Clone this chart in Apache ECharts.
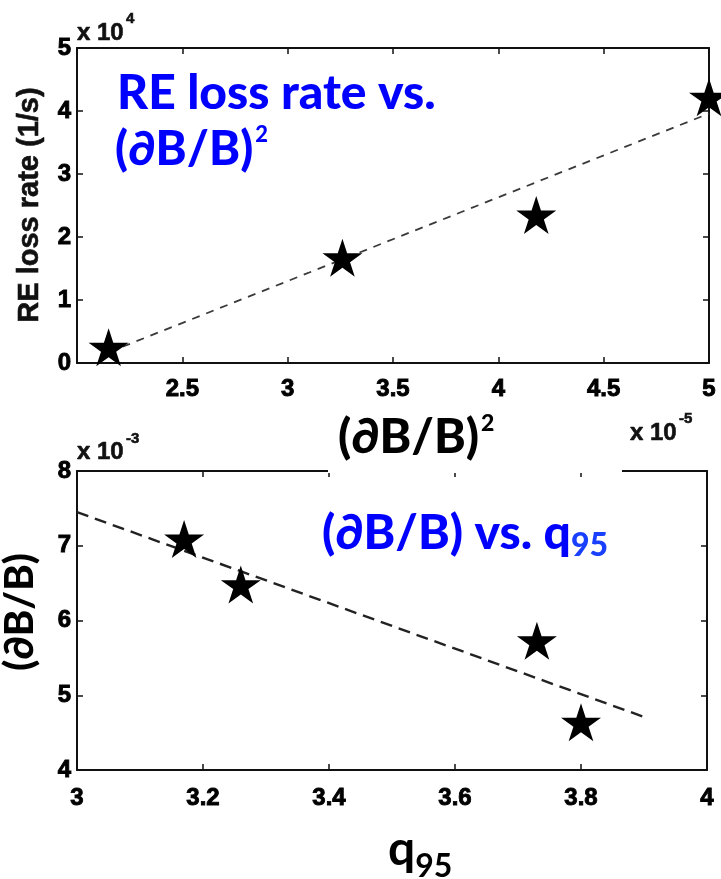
<!DOCTYPE html>
<html><head><meta charset="utf-8">
<script src="https://cdn.jsdelivr.net/npm/echarts@6/dist/echarts.min.js"></script>
<style>html,body{margin:0;padding:0;background:#fff}#c{width:721px;height:879px}</style>
</head><body><div id="c"></div>
<script>
// ---- Top panel: RE loss rate (x10^4 1/s) vs (dB/B)^2 (x10^-5)
const dBB2_x1e5 = [2.15, 3.26, 4.18, 5.00];
const lossRate_x1e4 = [0.25, 1.67, 2.35, 4.22];
const fitTopX = [2.15, 5.0];
const fitTopY = [0.17, 3.96];
const topXRange = [2, 5], topXStep = 0.5;
const topYRange = [0, 5], topYStep = 1;
// ---- Bottom panel: (dB/B) (x10^-3) vs q95
const q95 = [3.17, 3.26, 3.73, 3.80];
const dBB_x1e3 = [7.09, 6.48, 5.73, 4.64];
const fitBotX = [3.0, 3.9];
const fitBotY = [7.45, 4.71];
const botXRange = [3, 4], botXStep = 0.2;
const botYRange = [4, 8], botYStep = 1;

const zip = (a, b) => a.map((v, i) => [v, b[i]]);
const STAR = 'path://M50 0 L61.17 34.63 L97.55 34.55 L68.07 55.87 L79.39 90.45 L50 69 L20.61 90.45 L31.93 55.87 L2.45 34.55 L38.83 34.63 Z';
const TICKFONT = {fontFamily: 'Liberation Sans', fontWeight: 'bold', fontSize: 24, color: '#000', textBorderColor: '#000', textBorderWidth: 0.9};
const fmt = v => String(+(+v).toFixed(2));

function axis(grid, range, step, pos, labelOpts) {
  return {
    type: 'value', gridIndex: grid, min: range[0], max: range[1], interval: step,
    position: pos,
    axisLine: {show: true, onZero: false, lineStyle: {color: '#111', width: 2}},
    axisTick: {show: true, inside: true, length: 6, lineStyle: {color: '#111', width: 1.5}},
    splitLine: {show: false},
    axisLabel: labelOpts ? Object.assign({show: true, formatter: fmt}, TICKFONT, labelOpts) : {show: false}
  };
}

const MULT = {fontFamily: 'Liberation Sans', fontWeight: 'bold', fill: '#111', stroke: '#111', lineWidth: 0.6, verticalAlign: 'middle'};
const mult = (x, y, s, size) => ({type: 'text', x: x, y: y, z: 100, style: Object.assign({text: s, fontSize: size}, MULT)});
// text with a superscript "2"
const supText = (x, y, base, size, supSize, color) => ({type: 'text', x: x, y: y, z: 100, style: {
  text: '{a|' + base + '}{s|2}', verticalAlign: 'middle',
  rich: {a: {fontFamily: 'Lato', fontWeight: 900, fontSize: size, lineHeight: 52, fill: color},
         s: {fontFamily: 'Lato', fontWeight: 900, fontSize: supSize, lineHeight: 20, verticalAlign: 'top', fill: color, padding: [0, 0, 0, 2]}}}});

const chart = echarts.init(document.getElementById('c'), null, {renderer: 'canvas'});
const option = {
  backgroundColor: '#fff',
  animation: false,
  grid: [
    {left: 77, top: 48, width: 632, height: 315},
    {left: 77, top: 471, width: 630, height: 299}
  ],
  xAxis: [
    axis(0, topXRange, topXStep, 'bottom', {margin: 14, showMinLabel: false}),
    axis(0, topXRange, topXStep, 'top', null),
    axis(1, botXRange, botXStep, 'bottom', {margin: 16}),
    axis(1, botXRange, botXStep, 'top', null)
  ],
  yAxis: [
    axis(0, topYRange, topYStep, 'left', {margin: 6}),
    axis(0, topYRange, topYStep, 'right', null),
    axis(1, botYRange, botYStep, 'left', {margin: 6}),
    axis(1, botYRange, botYStep, 'right', null)
  ],
  series: [
    {type: 'line', xAxisIndex: 0, yAxisIndex: 0, data: zip(fitTopX, fitTopY), symbol: 'none',
     lineStyle: {color: '#3a3a3a', width: 1.8, type: [8, 7]}, z: 2},
    {type: 'scatter', xAxisIndex: 0, yAxisIndex: 0, data: zip(dBB2_x1e5, lossRate_x1e4),
     symbol: STAR, symbolSize: [40, 38], itemStyle: {color: '#000', opacity: 1}, z: 3},
    {type: 'line', xAxisIndex: 2, yAxisIndex: 2, data: zip(fitBotX, fitBotY), symbol: 'none',
     lineStyle: {color: '#222', width: 2.4, type: [12, 7]}, z: 2},
    {type: 'scatter', xAxisIndex: 2, yAxisIndex: 2, data: zip(q95, dBB_x1e3),
     symbol: STAR, symbolSize: [40, 38], itemStyle: {color: '#000', opacity: 1}, z: 3}
  ],
  graphic: [
    // multipliers
    mult(77, 33, 'x 10', 24), mult(126, 19, '4', 15),
    mult(77, 452, 'x 10', 24), mult(126, 439, '-3', 15),
    // white box behind the top plot's x-axis name
    {type: 'rect', z: 90, shape: {x: 328, y: 398, width: 294, height: 75}, style: {fill: '#fff'}},
    mult(630, 433, 'x 10', 24), mult(679, 419, '-5', 15),
    // axis names
    supText(338, 438, '(\u2202B/B)', 48, 23, '#000'),
    {type: 'text', x: 30, y: 205, z: 100, rotation: Math.PI / 2, style: {text: 'RE loss rate (1/s)', fontFamily: 'Liberation Sans', fontWeight: 'bold', fontSize: 29, fill: '#111', stroke: '#111', lineWidth: 0.6, align: 'center', verticalAlign: 'middle'}},
    {type: 'text', x: 20, y: 612, z: 100, rotation: Math.PI / 2, style: {text: '(\u2202B/B)', fontFamily: 'Lato', fontWeight: 900, fontSize: 40, fill: '#000', align: 'center', verticalAlign: 'middle'}},
    {type: 'text', x: 388, y: 850, z: 100, style: {text: '{a|q}{b|95}', verticalAlign: 'middle',
      rich: {a: {fontFamily: 'Lato', fontWeight: 'bold', fontSize: 48, lineHeight: 66, fill: '#000'},
             b: {fontFamily: 'Lato', fontWeight: 'bold', fontSize: 32, lineHeight: 34, verticalAlign: 'bottom', fill: '#000'}}}},
    // blue annotations
    {type: 'text', x: 117, y: 94, z: 100, style: {text: 'RE loss rate vs.', fontFamily: 'Lato', fontWeight: 900, fontSize: 48, fill: '#0000ff', verticalAlign: 'middle'}},
    supText(115, 150, '(\u2202B/B)', 47, 22, '#0000ff'),
    {type: 'text', x: 322, y: 534, z: 100, style: {text: '{a|(\u2202B/B) vs. q}{b|95}', verticalAlign: 'middle',
      rich: {a: {fontFamily: 'Lato', fontWeight: 900, fontSize: 48, lineHeight: 56, fill: '#0000ff'},
             b: {fontFamily: 'Lato', fontWeight: 900, fontSize: 32, lineHeight: 34, verticalAlign: 'bottom', fill: '#1a40ff'}}}}
  ]
};
chart.setOption(option);
</script></body></html>
